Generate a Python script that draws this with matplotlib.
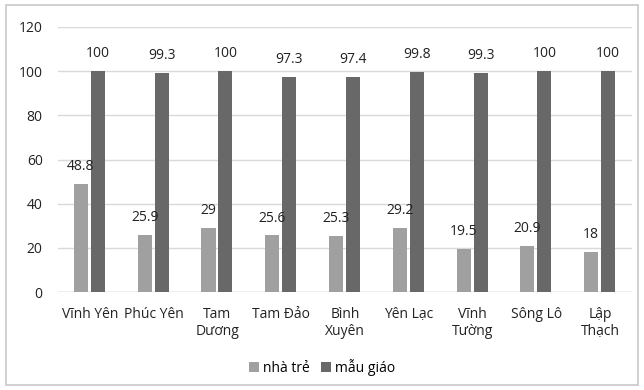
import numpy as np
import matplotlib.pyplot as plt
from matplotlib.patches import Rectangle

plt.rcParams['font.family'] = ['Open Sans', 'DejaVu Sans']

districts = ['Vĩnh Yên', 'Phúc Yên', 'Tam\nDương', 'Tam Đảo', 'Bình\nXuyên',
             'Yên Lạc', 'Vĩnh\nTường', 'Sông Lô', 'Lập\nThạch']
nha_tre = [48.8, 25.9, 29, 25.6, 25.3, 29.2, 19.5, 20.9, 18]
mau_giao = [100, 99.3, 100, 97.3, 97.4, 99.8, 99.3, 100, 100]
yticks = [0, 20, 40, 60, 80, 100, 120]

light = '#a0a0a0'
dark = '#686868'

fig = plt.figure(figsize=(6.44, 3.9), dpi=100)
ax = fig.add_axes([58/644, 1 - 292/390, 574/644, 265/390])

x = np.arange(len(districts))
w = 0.22
gap = 0.03
b1 = ax.bar(x - w/2 - gap, nha_tre, w, color=light, label='nhà trẻ', zorder=3)
b2 = ax.bar(x + w/2 + gap/2, mau_giao, w, color=dark, label='mẫu giáo', zorder=3)

for rect, v in zip(b1, nha_tre):
    ax.text(rect.get_x() + rect.get_width()/2, v + 4.5, f'{v:g}',
            ha='center', va='bottom', fontsize=10, color='#222222')
for rect, v in zip(b2, mau_giao):
    ax.text(rect.get_x() + rect.get_width()/2, v + 4.5, f'{v:g}',
            ha='center', va='bottom', fontsize=10, color='#222222')

ax.set_ylim(0, 120)
ax.set_xlim(-0.5, len(districts) - 0.5)
ax.set_yticks(yticks)
ax.set_xticks(x)
ax.set_xticklabels(districts, fontsize=10, linespacing=1.15)
ax.tick_params(axis='both', length=0, labelsize=10, colors='#222222')
ax.tick_params(axis='x', pad=11)
ax.tick_params(axis='y', pad=11)
ax.grid(axis='y', color='#d9d9d9', linewidth=1, zorder=0)
for s in ax.spines.values():
    s.set_visible(False)
ax.axhline(0, color='#c8c8c8', linewidth=1, zorder=2)

fig.legend(handles=[b1, b2], loc='center', bbox_to_anchor=(0.5, 1 - 367/390),
           ncol=2, frameon=False, fontsize=10, handlelength=0.7, handleheight=0.7,
           handletextpad=0.3, columnspacing=0.8)

fig.patches.append(Rectangle((6/644, 5/390), 632/644, 380/390, transform=fig.transFigure,
                             fill=False, edgecolor='#c8c8c8', linewidth=1.2))

fig.savefig('out.png', dpi=100)
